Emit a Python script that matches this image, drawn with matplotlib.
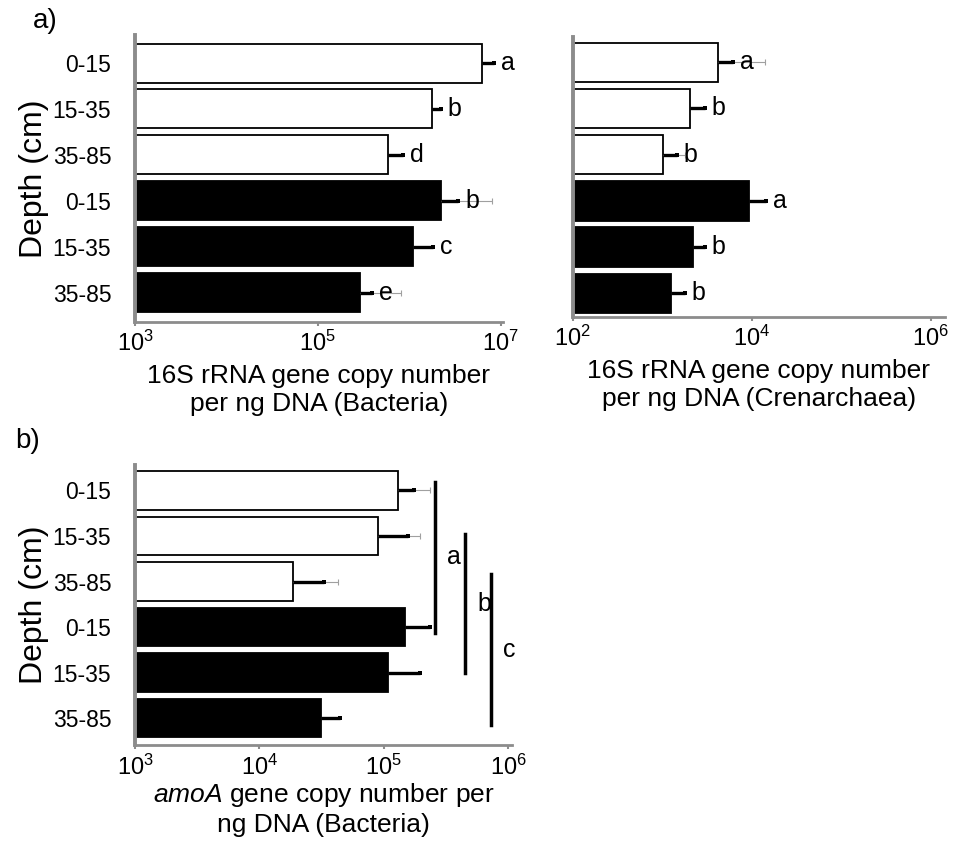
import numpy as np
import matplotlib
matplotlib.use("Agg")
import matplotlib.pyplot as plt

plt.rcParams['font.family'] = ['Liberation Sans', 'DejaVu Sans']
plt.rcParams['mathtext.fontset'] = 'custom'
plt.rcParams['mathtext.rm'] = 'Liberation Sans'
plt.rcParams['mathtext.it'] = 'Liberation Sans:italic'
plt.rcParams['mathtext.default'] = 'regular'

# ---------------- data ----------------
depths = ["0-15", "15-35", "35-85", "0-15", "15-35", "35-85"]
bar_colors = ["white", "white", "white", "black", "black", "black"]

bact_vals = [6.2e6, 1.75e6, 5.9e5, 2.2e6, 1.1e6, 2.9e5]
bact_err = [8.5e6, 2.2e6, 8.5e5, 3.4e6, 1.8e6, 3.9e5]
bact_thin = [np.nan, np.nan, np.nan, 7.9e6, np.nan, 8.1e5]
bact_letters = ["a", "b", "d", "b", "c", "e"]

cren_vals = [4200, 2030, 1020, 9300, 2200, 1260]
cren_err = [6200, 3000, 1450, 14500, 3000, 1790]
cren_thin = [14000, np.nan, 1780, np.nan, np.nan, np.nan]
cren_letters = ["a", "b", "b", "a", "b", "b"]

amoa_vals = [1.31e5, 8.9e4, 1.85e4, 1.48e5, 1.07e5, 3.1e4]
amoa_err = [1.73e5, 1.55e5, 3.3e4, 2.35e5, 1.95e5, 4.4e4]
amoa_thin = [2.35e5, 1.95e5, 4.3e4, np.nan, np.nan, np.nan]

sig_letters = ["a", "b", "c"]
sig_x = [2.57e5, 4.5e5, 7.2e5]
sig_y0 = [-0.19, 0.96, 1.84]
sig_y1 = [3.13, 4.02, 5.15]

# ---------------- figure ----------------
fig = plt.figure(figsize=(9.76, 8.56), dpi=100)

SPINE = "#8c8c8c"


def panel(rect, vals, err, thin, xlim, ylim, ticks, ticklabels, xlabel, labelpad, letters=None):
    ax = fig.add_axes(rect)
    y = np.arange(len(vals))
    vals = np.asarray(vals, float)
    err = np.asarray(err, float)
    thin = np.asarray(thin, float)
    ax.set_xscale('log')
    ax.barh(y, vals - xlim[0], left=xlim[0], height=0.85, color=bar_colors,
            edgecolor='black', linewidth=1.3, zorder=2)
    m = ~np.isnan(thin)
    ax.hlines(y[m], vals[m], thin[m], color='#a0a0a0', lw=0.8, zorder=3)
    ax.plot(thin[m], y[m], ls='none', marker='|', ms=4, mew=0.8, color='#a0a0a0', zorder=3)
    ax.hlines(y, vals, err, color='black', lw=2.4, zorder=4)
    ax.plot(err, y, ls='none', marker='s', ms=3.2, mew=0, color='black', zorder=4)
    if letters is not None:
        for yi, e, lt in zip(y, err, letters):
            ax.annotate(lt, xy=(e, yi), xytext=(5, 0), textcoords='offset points',
                        ha='left', va='center', fontsize=18)
    ax.set_xlim(*xlim)
    ax.set_ylim(*ylim)
    ax.set_yticks(y)
    ax.set_yticklabels(depths, fontsize=16.5)
    ax.tick_params(axis='y', length=0, pad=17)
    ax.set_xticks(ticks)
    ax.set_xticklabels(ticklabels, fontsize=17)
    ax.xaxis.set_minor_locator(matplotlib.ticker.NullLocator())
    ax.tick_params(axis='x', length=3, width=1.5, color=SPINE, pad=3)
    for s in ['top', 'right']:
        ax.spines[s].set_visible(False)
    ax.spines['left'].set_color(SPINE)
    ax.spines['left'].set_linewidth(2.8)
    ax.spines['bottom'].set_color(SPINE)
    ax.spines['bottom'].set_linewidth(2.0)
    ax.set_xlabel(xlabel, fontsize=19, linespacing=1.22, labelpad=labelpad)
    return ax


ax1 = panel([0.1383, 0.6238, 0.377, 0.3353], bact_vals, bact_err, bact_thin,
            (1e3, 10 ** 7.022), (5.64, -0.61), [1e3, 1e5, 1e7],
            [r"$10^{3}$", r"$10^{5}$", r"$10^{7}$"],
            "16S rRNA gene copy number\nper ng DNA (Bacteria)", 6, bact_letters)
ax1.set_ylabel("Depth (cm)", fontsize=23, labelpad=3)

ax2 = panel([0.5868, 0.6297, 0.3815, 0.3271], cren_vals, cren_err, cren_thin,
            (1e2, 10 ** 6.158), (5.51, -0.545), [1e2, 1e4, 1e6],
            [r"$10^{2}$", r"$10^{4}$", r"$10^{6}$"],
            "16S rRNA gene copy number\nper ng DNA (Crenarchaea)", 6, cren_letters)
ax2.set_yticklabels([])

ax3 = panel([0.1383, 0.1297, 0.386, 0.3271], amoa_vals, amoa_err, amoa_thin,
            (1e3, 10 ** 6.027), (5.59, -0.56), [1e3, 1e4, 1e5, 1e6],
            [r"$10^{3}$", r"$10^{4}$", r"$10^{5}$", r"$10^{6}$"],
            r"$\mathit{amoA}$ gene copy number per" + "\nng DNA (Bacteria)", 1)
ax3.set_ylabel("Depth (cm)", fontsize=23, labelpad=3)
ax3.tick_params(axis='x', pad=4)

for lt, xs, y0, y1 in zip(sig_letters, sig_x, sig_y0, sig_y1):
    ax3.plot([xs, xs], [y0, y1], color='black', lw=2.5, clip_on=False, zorder=5)
    ax3.annotate(lt, xy=(xs, (y0 + y1) / 2), xytext=(9, 0), textcoords='offset points',
                 ha='left', va='center', fontsize=18, annotation_clip=False)

fig.text(0.034, 1 - 21 / 856, "a)", fontsize=20, va='center', ha='left')
fig.text(0.016, 1 - 441.5 / 856, "b)", fontsize=20, va='center', ha='left')

fig.savefig("out.png", dpi=100)
